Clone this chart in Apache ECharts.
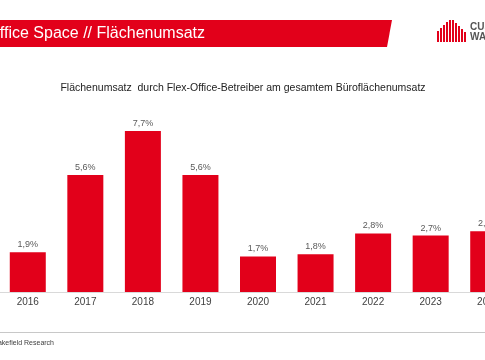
<!DOCTYPE html>
<html><head><meta charset="utf-8">
<script src="https://cdn.jsdelivr.net/npm/echarts@6/dist/echarts.min.js"></script>
<style>html,body{margin:0;padding:0;background:#fff;overflow:hidden;width:485px;height:360px}#c{position:absolute;left:-1px;top:0;width:518px;height:360px}</style>
</head><body><div id="c"></div>
<script>
const categories = ['2016','2017','2018','2019','2020','2021','2022','2023','2024'];
const shareValues = [1.9, 5.6, 7.7, 5.6, 1.7, 1.8, 2.8, 2.7, 2.9];
const chartTitle = 'Flächenumsatz  durch Flex-Office-Betreiber am gesamtem Büroflächenumsatz';
const bannerText = 'Flex Office Space // Flächenumsatz';
const sourceText = 'Quelle: Cushman & Wakefield Research';

const RED = '#e2001a';
const OX = 1; // container is shifted 1px left
const chart = echarts.init(document.getElementById('c'), null, {renderer:'canvas'});

// logo stripes (decorative)
const stripeX = [437,440,443,446,449,452,455,458,461,464];
const stripeTop = [31,28,25,22,20,20,23,26,29,32];
const logo = stripeX.map((x,i)=>({type:'rect', shape:{x:x+OX, y:stripeTop[i], width:2, height:42-stripeTop[i]}, style:{fill:RED}}));

chart.setOption({
  animation:false,
  backgroundColor:'#ffffff',
  textStyle:{fontFamily:'Liberation Sans, Arial, sans-serif'},
  graphic:[
    {type:'polygon', shape:{points:[[0,20],[392+OX,20],[387+OX,47],[0,47]]}, style:{fill:RED}},
    {type:'text', x:205+OX, y:33.5, style:{text:bannerText, fill:'#ffffff', fontSize:16, align:'right', verticalAlign:'middle', fontFamily:'Liberation Sans, Arial, sans-serif'}},
    ...logo,
    {type:'text', x:470+OX, y:27, style:{text:'CUSHMAN &', fill:'#555555', fontSize:10, fontWeight:'bold', verticalAlign:'middle', fontFamily:'Liberation Sans, Arial, sans-serif'}},
    {type:'text', x:470+OX, y:37, style:{text:'WAKEFIELD', fill:'#555555', fontSize:10, fontWeight:'bold', verticalAlign:'middle', fontFamily:'Liberation Sans, Arial, sans-serif'}},
    {type:'text', x:243+OX, y:88, style:{text:chartTitle, fill:'#222222', fontSize:10.5, align:'center', verticalAlign:'middle', fontFamily:'Liberation Sans, Arial, sans-serif'}},
    {type:'line', shape:{x1:0, y1:332.5, x2:518, y2:332.5}, style:{stroke:'#c8c8c8', lineWidth:1}},
    {type:'text', x:54+OX, y:343, style:{text:sourceText, fill:'#404040', fontSize:7, align:'right', verticalAlign:'middle', fontFamily:'Liberation Sans, Arial, sans-serif'}}
  ],
  grid:{left:0, right:0, top:124.7, bottom:68, containLabel:false},
  xAxis:{type:'category', data:categories,
    axisLine:{show:true, lineStyle:{color:'#d9d9d9', width:1}},
    axisTick:{show:false},
    axisLabel:{color:'#404040', fontSize:10, margin:5, interval:0}},
  yAxis:{type:'value', min:0, max:8, show:false, splitLine:{show:false}},
  series:[{type:'bar', data:shareValues, barWidth:36,
    itemStyle:{color:RED},
    label:{show:true, position:'top', distance:3, fontSize:9, color:'#595959',
      formatter:p=>String(p.value).replace('.',',')+'%'}}]
});
</script></body></html>
